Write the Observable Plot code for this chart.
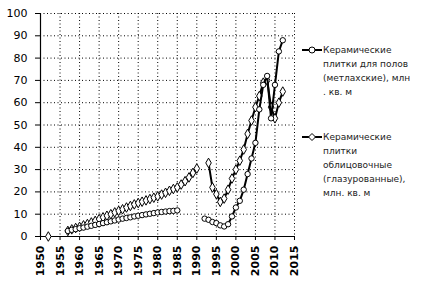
<!DOCTYPE html>
<html><head><meta charset="utf-8">
<script src="https://cdn.jsdelivr.net/npm/d3@7"></script>
<script src="https://cdn.jsdelivr.net/npm/@observablehq/plot@0.6"></script>
<style>
body{margin:0;background:#fff;}
#wrap{position:relative;width:426px;height:282px;overflow:hidden;font-family:"DejaVu Sans",sans-serif;}
.legend{position:absolute;left:302px;font-size:9px;color:#222;line-height:14px;}
.legend .row{display:flex;align-items:flex-start;}
.legend svg{flex:none;margin-top:2px;}
.legend .txt{margin-left:1px;}
</style></head><body><div id="wrap"></div>
<script>
const years = [];
for (let y = 1950; y <= 2012; y++) years.push(y);

// Керамические плитки для полов (метлахские), млн. кв. м  (circles)
const floorTiles = [
  null,null,null,null,null,null,null,            // 1950-1956
  2.5,3,3.3,3.7,4,4.4,4.8,5.2,5.6,6,6.4,6.8,7.2,7.6, // 1957-1970
  8,8.3,8.6,9,9.3,9.6,9.9,10.2,10.5,10.8,          // 1971-1980
  11,11.2,11.4,11.5,11.7,                          // 1981-1985
  null,null,null,null,null,null,                   // 1986-1991
  8,7.5,6.5,6,5,4.5,5.5,9,13,                      // 1992-2000
  16,21,28,35,42,57,68,72,53,68,83,88              // 2001-2012
];
// Керамические плитки облицовочные (глазурованные), млн. кв. м  (diamonds)
const glazedTiles = [
  null,null,0,null,null,null,null,                 // 1950-1956
  2.5,3.2,3.8,4.3,5,5.6,6.3,7,7.8,8.6,9.3,10,10.8,11.5, // 1957-1970
  12.2,13,13.7,14.4,15,15.6,16.2,16.8,17.4,18,     // 1971-1980
  18.8,19.6,20.5,21.3,22,23.3,24.8,26.5,28.5,30.5, // 1981-1990
  null,null,                                       // 1991-1992
  33,22,19,15.5,17,21,26,30,                       // 1993-2000
  34,39,46,52,58,63,69,70,58,53,60,65              // 2001-2012
];
const seriesNames = [
  "Керамические плитки для полов (метлахские), млн . кв. м",
  "Керамические плитки облицовочные (глазурованные), млн. кв. м"
];
const legendLines = [
  ["Керамические","плитки для полов","(метлахские), млн",". кв. м"],
  ["Керамические","плитки","облицовочные","(глазурованные),","млн. кв. м"]
];
const xTicks = [1950,1955,1960,1965,1970,1975,1980,1985,1990,1995,2000,2005,2010,2015];
const yTicks = [0,10,20,30,40,50,60,70,80,90,100];

const data = years.map((y,i)=>({year:y, floor:floorTiles[i], glazed:glazedTiles[i]}));
const grid = {stroke:"#000", strokeOpacity:1, strokeWidth:1, strokeDasharray:"1,2.5"};

const chart = Plot.plot({
  width:426, height:282,
  marginLeft:40, marginRight:132, marginTop:13, marginBottom:46,
  x:{domain:[1950,2015]},
  y:{domain:[0,100]},
  style:{fontFamily:"DejaVu Sans, sans-serif", fontSize:"11px", color:"#000", background:"#fff"},
  marks:[
    Plot.gridX(xTicks.slice(1), grid),
    Plot.gridY(yTicks.slice(1), grid),
    Plot.ruleX([1950],{stroke:"#000", strokeWidth:1.2}),
    Plot.ruleY([0],{stroke:"#000", strokeWidth:1.2}),
    Plot.axisX(xTicks,{tickRotate:-90, tickSize:4, tickPadding:5, tickFormat:d=>String(d), label:null, fontSize:11, fontWeight:"bold"}),
    Plot.axisY(yTicks,{tickSize:5, tickPadding:8, label:null, fontSize:11}),
    Plot.line(data,{x:"year", y:"glazed", stroke:"#000", strokeWidth:2}),
    Plot.dot(data,{x:"year", y:"glazed", symbol:"diamond", r:2.9, fill:"#fff", stroke:"#000", strokeWidth:1}),
    Plot.line(data,{x:"year", y:"floor", stroke:"#000", strokeWidth:2}),
    Plot.dot(data,{x:"year", y:"floor", symbol:"circle", r:2.7, fill:"#fff", stroke:"#000", strokeWidth:1})
  ]
});
const wrap = document.getElementById("wrap");
wrap.appendChild(chart);

const symbols = ["circle","diamond"];
const tops = [43, 130];
legendLines.forEach((lines,i)=>{
  const div = document.createElement("div");
  div.className = "legend";
  div.style.top = tops[i] + "px";
  div.title = seriesNames[i];
  const marker = symbols[i] === "circle"
    ? '<circle cx="10" cy="5" r="3" fill="#fff" stroke="#000"/>'
    : '<path d="M10,1.5L13.5,5L10,8.5L6.5,5Z" fill="#fff" stroke="#000"/>';
  div.innerHTML = '<div class="row"><svg width="20" height="10"><line x1="0" x2="20" y1="5" y2="5" stroke="#000" stroke-width="2"/>' + marker + '</svg><div class="txt">' + lines.join("<br>") + '</div></div>';
  wrap.appendChild(div);
});
</script>
</body></html>
